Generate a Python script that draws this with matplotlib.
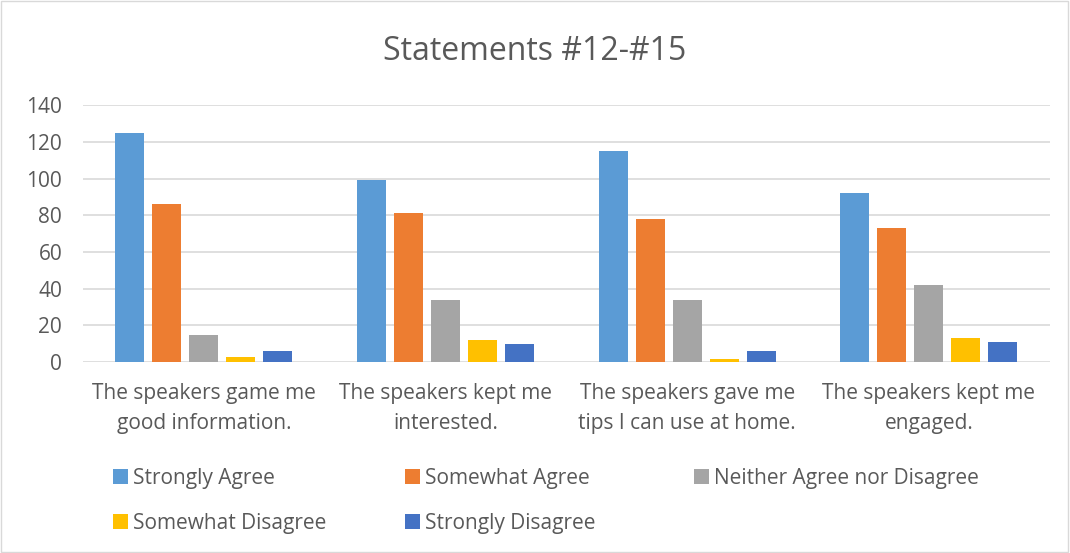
import numpy as np
import matplotlib
matplotlib.use("Agg")
import matplotlib.pyplot as plt
from matplotlib.patches import Rectangle

categories = [
    "The speakers game me\ngood information.",
    "The speakers kept me\ninterested.",
    "The speakers gave me\ntips I can use at home.",
    "The speakers kept me\nengaged.",
]
series_names = [
    "Strongly Agree",
    "Somewhat Agree",
    "Neither Agree nor Disagree",
    "Somewhat Disagree",
    "Strongly Disagree",
]
strongly_agree = [125, 99, 115, 92]
somewhat_agree = [86, 81, 78, 73]
neither = [15, 34, 34, 42]
somewhat_disagree = [3, 12, 2, 13]
strongly_disagree = [6, 10, 6, 11]
yticks = [0, 20, 40, 60, 80, 100, 120, 140]

COLORS = ["#5B9BD5", "#ED7D31", "#A5A5A5", "#FFC000", "#4472C4"]
TEXT = "#595959"
GRID = "#D9D9D9"

plt.rcParams["font.family"] = ["Open Sans", "DejaVu Sans"]

fig = plt.figure(figsize=(10.7, 5.53), dpi=100)
ax = fig.add_axes([0.0776, 0.345, 0.9034, 0.465])

values = [strongly_agree, somewhat_agree, neither, somewhat_disagree, strongly_disagree]
x = np.arange(len(categories))
step, width = 0.153, 0.12
handles = []
for i, (vals, name, col) in enumerate(zip(values, series_names, COLORS)):
    h = ax.bar(x + (i - 2) * step, vals, width, color=col, label=name, zorder=3)
    handles.append(h)

ax.set_xlim(-0.5, len(categories) - 0.5)
ax.set_ylim(0, 140)
ax.set_yticks(yticks)
ax.set_xticks(x)
ax.set_xticklabels(categories, fontsize=15, color=TEXT, linespacing=1.55)
ax.tick_params(axis="y", labelsize=15, labelcolor=TEXT, length=0, pad=15)
ax.tick_params(axis="x", length=0, pad=15)
ax.grid(axis="y", color=GRID, linewidth=1.2, zorder=0)
for s in ax.spines.values():
    s.set_visible(False)

fig.suptitle("Statements #12-#15", x=0.5, y=0.937, fontsize=23, color=TEXT)

# legend laid out row by row, one legend per column
columns = [[0, 3], [1, 4], [2]]
col_x = [0.098, 0.371, 0.641]
for idx, cx in zip(columns, col_x):
    leg = fig.legend([handles[k] for k in idx], [series_names[k] for k in idx],
                     loc="upper left", bbox_to_anchor=(cx, 0.169),
                     frameon=False, fontsize=15, handlelength=0.7, handleheight=0.7,
                     handletextpad=0.25, labelspacing=1.15, borderaxespad=0)
    for t in leg.get_texts():
        t.set_color(TEXT)

fig.patches.append(Rectangle((0.001, 0.002), 0.997, 0.996, transform=fig.transFigure,
                             fill=False, edgecolor=GRID, linewidth=1))

fig.savefig("out.png", dpi=100)
